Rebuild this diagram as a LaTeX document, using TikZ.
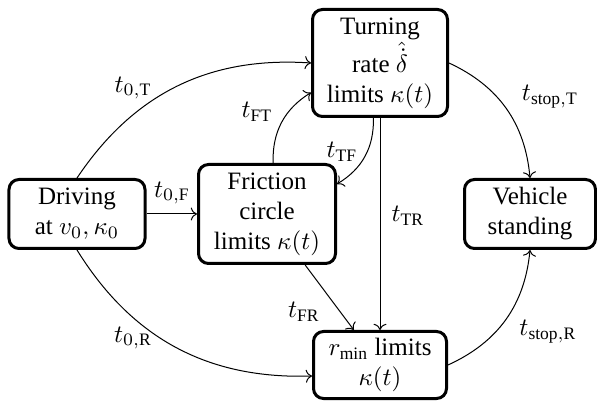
\documentclass[tikz,border=0pt]{standalone}
\usepackage{fontspec}
\setmainfont{Liberation Serif}
\usetikzlibrary{arrows.meta}
\begin{document}
\begin{tikzpicture}[x=0.4pt,y=-0.4pt,
  state/.style={draw,line width=1.2pt,rounded corners=4pt,align=center,inner sep=1pt},
  conn/.style={->,line width=0.4pt},
  lbl/.style={inner sep=0pt}]
\useasboundingbox (0,0) rectangle (597,404);
\node[state,minimum width=54.4pt,minimum height=27.6pt] (d) at (77,214) {Driving\\at $v_0,\kappa_0$};
\node[state,minimum width=54.8pt,minimum height=39.6pt] (f) at (267,214) {Friction\\circle\\limits $\kappa(t)$};
\node[state,minimum width=54pt,minimum height=42.8pt] (t) at (380,63) {Turning\\rate $\hat{\dot{\delta}}$\\limits $\kappa(t)$};
\node[state,minimum width=52.4pt,minimum height=27.6pt] (v) at (530,214) {Vehicle\\standing};
\node[state,minimum width=53.2pt,minimum height=26.8pt] (r) at (380,365) {$r_{\mathrm{min}}$ limits\\$\kappa(t)$};

\draw[conn] (d) -- (f);
\draw[conn] (d.north) to[bend left] (t.west);
\draw[conn] (d.south) to[bend right] (r);
\draw[conn] (f) to[bend left] (t);
\draw[conn] (t) to[bend left] (f);
\draw[conn] (t) -- (r);
\draw[conn] (f) -- (r);
\draw[conn] (t.east) to[bend left] (v.north);
\draw[conn] (r.east) to[bend right] (v.south);

\node[lbl] (l0T) at (133,88) {$t_{0,\mathrm{T}}$};
\node[lbl] (l0F) at (172,193) {$t_{0,\mathrm{F}}$};
\node[lbl] (l0R) at (133,338) {$t_{0,\mathrm{R}}$};
\node[lbl] (lFT) at (257,112) {$t_{\mathrm{FT}}$};
\node[lbl] (lTF) at (342,152) {$t_{\mathrm{TF}}$};
\node[lbl] (lTR) at (408,216) {$t_{\mathrm{TR}}$};
\node[lbl] (lFR) at (304,312) {$t_{\mathrm{FR}}$};
\node[lbl] (lsT) at (550,97) {$t_{\mathrm{stop,T}}$};
\node[lbl] (lsR) at (548,332) {$t_{\mathrm{stop,R}}$};
\end{tikzpicture}
\end{document}
